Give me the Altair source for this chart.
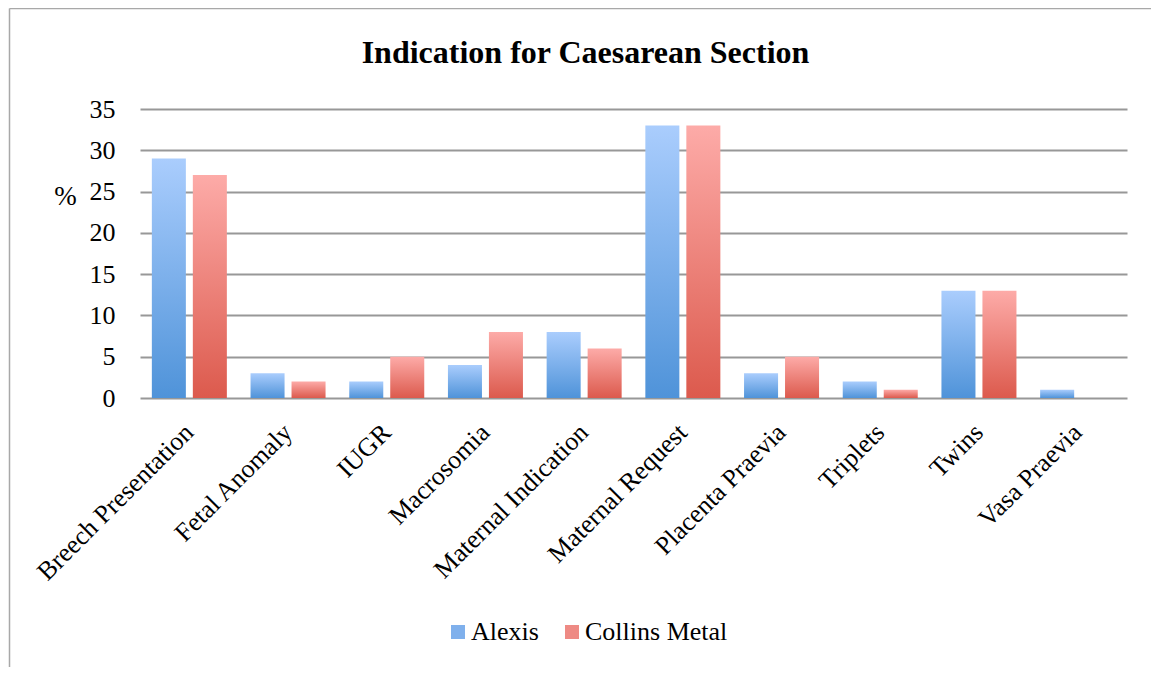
import altair as alt
import pandas as pd

categories = ["Breech Presentation", "Fetal Anomaly", "IUGR", "Macrosomia",
              "Maternal Indication", "Maternal Request", "Placenta Praevia",
              "Triplets", "Twins", "Vasa Praevia"]
alexis = [29, 3, 2, 4, 8, 33, 3, 2, 13, 1]
collins = [27, 2, 5, 8, 6, 33, 5, 1, 13, 0]
series = ["Alexis", "Collins Metal"]
y_ticks = [0, 5, 10, 15, 20, 25, 30, 35]

rows = []
for c, a, b in zip(categories, alexis, collins):
    rows.append({"category": c, "series": series[0], "value": a})
    rows.append({"category": c, "series": series[1], "value": b})
df = pd.DataFrame(rows)

FONT = "Liberation Serif"
W, H = 987, 289

blue_grad = alt.Gradient(gradient="linear", x1=0, x2=0, y1=0, y2=1,
                         stops=[alt.GradientStop(color="#aacdfd", offset=0),
                                alt.GradientStop(color="#4f93d9", offset=1)])
red_grad = alt.Gradient(gradient="linear", x1=0, x2=0, y1=0, y2=1,
                        stops=[alt.GradientStop(color="#fdaba8", offset=0),
                               alt.GradientStop(color="#dc5a4d", offset=1)])

x_enc = alt.X("category:N", sort=categories, title=None,
              scale=alt.Scale(paddingInner=0.24, paddingOuter=0.12),
              axis=alt.Axis(labelAngle=-45, labelAlign="right", labelBaseline="middle",
                            labelFont=FONT, labelFontSize=26,
                            labelColor="black", ticks=False, domain=False,
                            labelPadding=30, grid=False, labelLimit=400))
xo_enc = alt.XOffset("series:N", scale=alt.Scale(domain=series, paddingInner=0.17, paddingOuter=0))
y_enc = alt.Y("value:Q", scale=alt.Scale(domain=[0, 35], nice=False),
              axis=alt.Axis(values=y_ticks, title="%", titleAngle=0, titleFont=FONT,
                            titleFontSize=27, titleFontWeight="normal", titleColor="black",
                            titleX=-75, titleY=87, titleAlign="center", titleBaseline="middle",
                            labelFont=FONT, labelFontSize=26, labelColor="black",
                            ticks=False, domain=False, labelPadding=25,
                            grid=True, gridColor="#989898", gridWidth=1.9))

base = alt.Chart(df)

bars_a = base.transform_filter(alt.datum.series == series[0]).mark_bar(color=blue_grad).encode(
    x=x_enc, xOffset=xo_enc, y=y_enc)
bars_b = base.transform_filter(alt.datum.series == series[1]).mark_bar(color=red_grad).encode(
    x=x_enc, xOffset=xo_enc, y=y_enc)

legend_layer = base.mark_square(opacity=0).encode(
    x=x_enc, xOffset=xo_enc, y=y_enc,
    color=alt.Color("series:N", scale=alt.Scale(domain=series, range=["#7fb0ec", "#ee8a84"]),
                    legend=alt.Legend(title=None, orient="none", legendX=305, legendY=510,
                                      direction="horizontal", symbolType="square",
                                      symbolSize=196, symbolOpacity=1, symbolStrokeWidth=0,
                                      labelFont=FONT, labelFontSize=26, labelColor="black",
                                      labelOffset=0, columnPadding=20, padding=0))
)

one = alt.Data(values=[{}])
border_left = alt.Chart(one).mark_rule(color="#a8a8a8", strokeWidth=1.5).encode(
    x=alt.value(-130.5), y=alt.value(-100.5), y2=alt.value(H + 270))
border_top = alt.Chart(one).mark_rule(color="#a8a8a8", strokeWidth=1.5).encode(
    x=alt.value(-130.5), x2=alt.value(W + 30), y=alt.value(-100.5))

chart = alt.layer(bars_a, bars_b, legend_layer, border_left, border_top).properties(
    width=W, height=H,
    title=alt.Title("Indication for Caesarean Section", font=FONT, fontSize=32,
                    fontWeight="bold", color="black", frame="group", anchor="middle",
                    baseline="alphabetic", offset=-87, dx=-48),
    autosize=alt.AutoSizeParams(type="none"),
    padding={"left": 132, "top": 101, "right": 24, "bottom": 269},
).configure(font=FONT).configure_view(stroke=None)

chart.save("out.html", embed_options={"renderer": "svg", "actions": False})
